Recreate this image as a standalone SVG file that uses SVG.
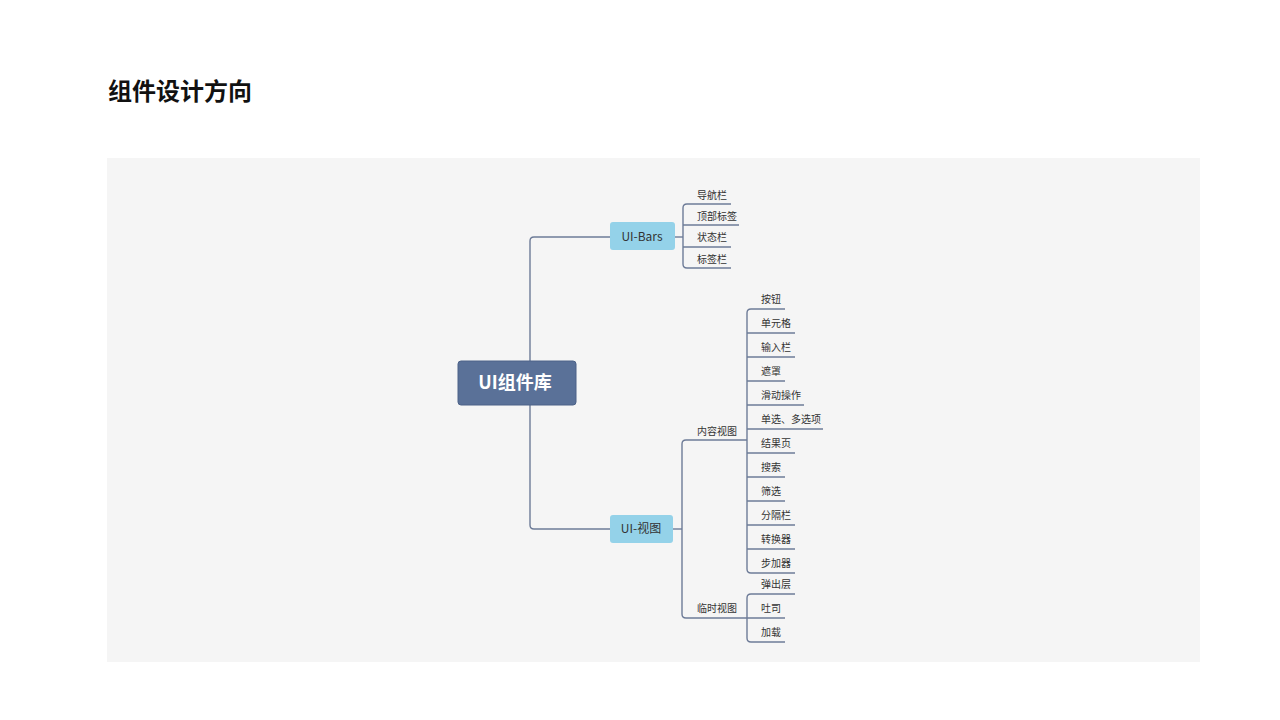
<svg xmlns="http://www.w3.org/2000/svg" width="1280" height="720" viewBox="0 0 1280 720">
<style>
.t{font-family:"Noto Sans CJK SC","Noto Sans",sans-serif;fill:#333;}
.s{font-size:10px;}
.m{font-size:12px;}
.c{fill:none;stroke:#6e7c98;stroke-width:1.4;}
</style>
<rect width="1280" height="720" fill="#fff"/>
<text x="108" y="100" font-family="'Noto Sans CJK SC','Noto Sans',sans-serif" font-size="24" font-weight="bold" fill="#111">组件设计方向</text>
<rect x="107" y="158" width="1093" height="504" fill="#f5f5f5"/>
<g id="connectors" class="c">
<path d="M530,361 V241 Q530,237 534,237 H610"/>
<path d="M530,405 V525 Q530,529 534,529 H610"/>
<path d="M675,237 H683"/>
<path d="M731,204 H687 Q683,204 683,208 V264 Q683,268 687,268 H731"/>
<path d="M683,225 H739 M683,247 H731"/>
<path d="M673,529 H682"/>
<path d="M747,440 H686 Q682,440 682,444 V614 Q682,618 686,618 H785"/>
<path d="M785,309 H751 Q747,309 747,313 V569 Q747,573 751,573 H795"/>
<path d="M747,333 H795 M747,357 H795 M747,381 H785 M747,405 H804 M747,429 H823 M747,453 H795 M747,477 H785 M747,501 H785 M747,525 H795 M747,549 H795"/>
<path d="M795,594 H751 Q747,594 747,598 V638 Q747,642 751,642 H785"/>
</g>
<g id="root">
<rect x="458" y="361" width="118" height="44" rx="3" fill="#5a7198" stroke="#4c6288"/>
<text x="515" y="389" text-anchor="middle" class="t" font-size="18" font-weight="bold" style="fill:#fff">UI组件库</text>
</g>
<g id="ui-bars">
<rect x="610" y="222" width="65" height="28" rx="3" fill="#94d2e9"/>
<text x="642" y="241" text-anchor="middle" class="t m">UI-Bars</text>
</g>
<g id="ui-view">
<rect x="610" y="515" width="63" height="28" rx="3" fill="#94d2e9"/>
<text x="641" y="533" text-anchor="middle" class="t m">UI-视图</text>
</g>
<g id="bars-children" class="t s">
<text x="697" y="199">导航栏</text>
<text x="697" y="220">顶部标签</text>
<text x="697" y="241">状态栏</text>
<text x="697" y="263">标签栏</text>
</g>
<g id="content-view" class="t s">
<text x="697" y="435">内容视图</text>
</g>
<g id="content-children" class="t s">
<text x="761" y="303">按钮</text>
<text x="761" y="327">单元格</text>
<text x="761" y="351">输入栏</text>
<text x="761" y="375">遮罩</text>
<text x="761" y="399">滑动操作</text>
<text x="761" y="423">单选、多选项</text>
<text x="761" y="447">结果页</text>
<text x="761" y="471">搜索</text>
<text x="761" y="495">筛选</text>
<text x="761" y="519">分隔栏</text>
<text x="761" y="543">转换器</text>
<text x="761" y="567">步加器</text>
</g>
<g id="temp-view" class="t s">
<text x="697" y="612">临时视图</text>
</g>
<g id="temp-children" class="t s">
<text x="761" y="588">弹出层</text>
<text x="761" y="612">吐司</text>
<text x="761" y="636">加载</text>
</g>
</svg>
